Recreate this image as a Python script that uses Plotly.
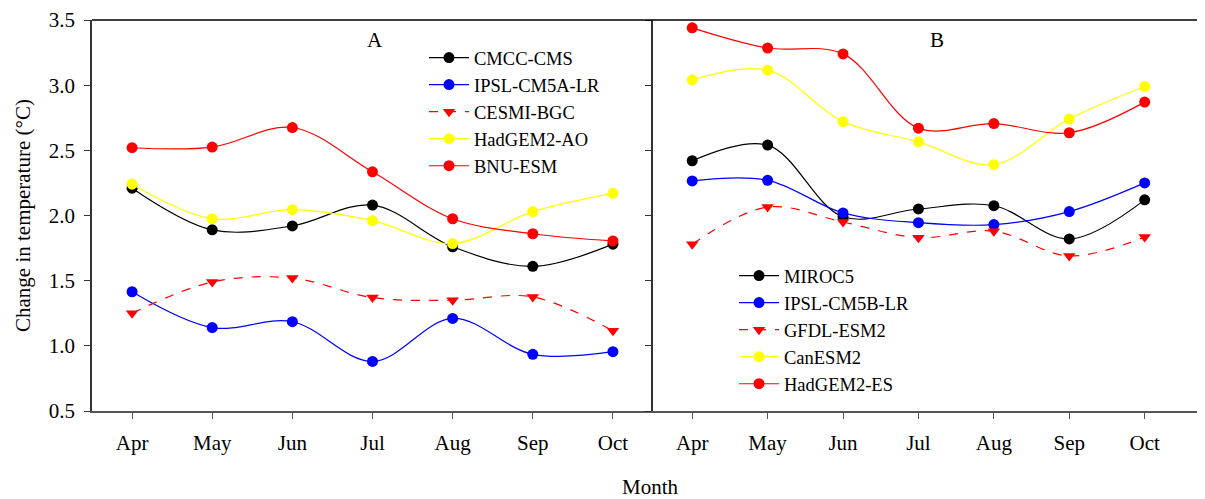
import plotly.graph_objects as go

months = ["Apr", "May", "Jun", "Jul", "Aug", "Sep", "Oct"]

# Panel A
cmcc_cms = [2.21, 1.89, 1.92, 2.08, 1.76, 1.61, 1.78]
ipsl_cm5a_lr = [1.415, 1.14, 1.185, 0.88, 1.21, 0.935, 0.955]
cesmi_bgc = [1.25, 1.49, 1.52, 1.37, 1.35, 1.375, 1.115]
hadgem2_ao = [2.24, 1.975, 2.045, 1.96, 1.785, 2.03, 2.17]
bnu_esm = [2.52, 2.525, 2.675, 2.335, 1.975, 1.86, 1.805]

# Panel B
miroc5 = [2.42, 2.54, 1.99, 2.05, 2.075, 1.82, 2.12]
ipsl_cm5b_lr = [2.265, 2.27, 2.02, 1.945, 1.93, 2.03, 2.25]
gfdl_esm2 = [1.78, 2.065, 1.95, 1.83, 1.88, 1.69, 1.835]
canesm2 = [3.04, 3.115, 2.72, 2.565, 2.39, 2.74, 2.99]
hadgem2_es = [3.44, 3.285, 3.24, 2.67, 2.705, 2.635, 2.87]

FONT = "Liberation Serif"

# page has an 8px body margin; work in figure pixel coordinates
OFF = 8
W, H = 1197, 491
L, T = 92 - OFF, 20 - OFF
PW, PH = 1113, 391
B = H - T - PH


def px(xpage):
    return (xpage - OFF - L) / PW


def py(ypage):
    return 1 - (ypage - OFF - T) / PH


fig = go.Figure()


def add(name, y, color, xa, ya, leg, dash="solid", symbol="circle"):
    fig.add_trace(go.Scatter(
        x=list(range(len(months))), y=y, name=name, mode="lines+markers",
        line=dict(color=color, width=1.2, shape="spline", smoothing=1.0, dash=dash),
        marker=dict(color=color, size=11, symbol=symbol),
        xaxis=xa, yaxis=ya, legend=leg,
    ))


add("CMCC-CMS", cmcc_cms, "black", "x", "y", "legend")
add("IPSL-CM5A-LR", ipsl_cm5a_lr, "blue", "x", "y", "legend")
add("CESMI-BGC", cesmi_bgc, "red", "x", "y", "legend", dash="dash", symbol="triangle-down")
add("HadGEM2-AO", hadgem2_ao, "yellow", "x", "y", "legend")
add("BNU-ESM", bnu_esm, "red", "x", "y", "legend")

add("MIROC5", miroc5, "black", "x2", "y2", "legend2")
add("IPSL-CM5B-LR", ipsl_cm5b_lr, "blue", "x2", "y2", "legend2")
add("GFDL-ESM2", gfdl_esm2, "red", "x2", "y2", "legend2", dash="dash", symbol="triangle-down")
add("CanESM2", canesm2, "yellow", "x2", "y2", "legend2")
add("HadGEM2-ES", hadgem2_es, "red", "x2", "y2", "legend2")

split = px(653)

xcommon = dict(
    tickmode="array", tickvals=list(range(len(months))), ticktext=months,
    showgrid=False, zeroline=False, showline=True, linecolor="#555", linewidth=1.5,
    ticks="outside", ticklen=6, tickcolor="#555", ticklabelstandoff=6,
    tickfont=dict(family=FONT, size=21, color="black"),
)

legcommon = dict(
    xanchor="left", yanchor="top",
    font=dict(family=FONT, size=18.5), bgcolor="rgba(0,0,0,0)", tracegroupgap=0,
    itemwidth=40,
)

fig.update_layout(
    width=W, height=H,
    margin=dict(l=L, r=0, t=T, b=B),
    plot_bgcolor="white", paper_bgcolor="white",
    font=dict(family=FONT, color="black"),
    xaxis=dict(domain=[0, split], range=[-0.5, 6.5], anchor="y", **xcommon),
    xaxis2=dict(domain=[split, 1], range=[-0.52, 6.8], anchor="y2", **xcommon),
    yaxis=dict(
        range=[0.5, 3.5], dtick=0.5, tickformat=".1f", anchor="x",
        showgrid=False, zeroline=False, showline=True, linecolor="#333", linewidth=1.5,
        ticks="outside", ticklen=6, tickcolor="#333", ticklabelstandoff=5,
        tickfont=dict(family=FONT, size=21, color="black"),
    ),
    yaxis2=dict(
        range=[0.5, 3.5], dtick=0.5, anchor="x2", showticklabels=False,
        showgrid=False, zeroline=False, showline=True, linecolor="#333", linewidth=1.5,
        ticks="outside", ticklen=6, tickcolor="#333",
    ),
    legend=dict(x=px(424), y=py(39), **legcommon),
    legend2=dict(x=px(734), y=py(257), **legcommon),
    showlegend=True,
)

# top border line
fig.add_shape(type="line", xref="paper", yref="paper", x0=0, x1=1, y0=1, y1=1,
              line=dict(color="black", width=1.5))

fig.add_annotation(text="A", xref="paper", yref="paper", x=px(375), y=py(40),
                   xanchor="center", yanchor="middle",
                   showarrow=False, font=dict(family=FONT, size=21))
fig.add_annotation(text="B", xref="paper", yref="paper", x=px(937), y=py(40),
                   xanchor="center", yanchor="middle",
                   showarrow=False, font=dict(family=FONT, size=21))
fig.add_annotation(text="Month", xref="paper", yref="paper", x=px(650), y=py(487),
                   xanchor="center", yanchor="middle",
                   showarrow=False, font=dict(family=FONT, size=21))
fig.add_annotation(text="Change in temperature (°C)", xref="paper", yref="paper",
                   x=px(23), y=py(216), textangle=-90,
                   xanchor="center", yanchor="middle",
                   showarrow=False, font=dict(family=FONT, size=21))

fig.write_html("out.html")
